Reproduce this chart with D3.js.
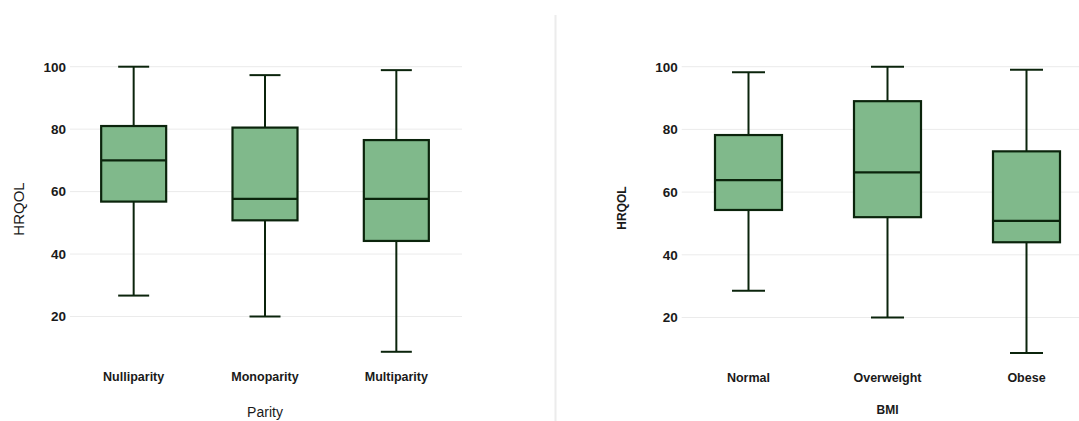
<!DOCTYPE html>
<html>
<head>
<meta charset="utf-8">
<script src="https://cdn.jsdelivr.net/npm/d3@7"></script>
<style>
  body { margin: 0; background: #fff; }
  svg { display: block; font-family: "Liberation Sans", Arial, sans-serif; }
</style>
</head>
<body>
<div class="chart"></div>
<script>
var w = 1079, h = 421;

// parity panel
var parityCats = ['Nulliparity', 'Monoparity', 'Multiparity'];
var parityMin = [26.7, 20, 8.7];
var parityQ1 = [56.8, 50.8, 44.2];
var parityMed = [70, 57.7, 57.7];
var parityQ3 = [81, 80.5, 76.5];
var parityMax = [100, 97.3, 98.9];

// BMI panel
var bmiCats = ['Normal', 'Overweight', 'Obese'];
var bmiMin = [28.5, 20, 8.7];
var bmiQ1 = [54.3, 52, 44];
var bmiMed = [63.8, 66.3, 50.8];
var bmiQ3 = [78.2, 89, 73];
var bmiMax = [98.2, 100, 99];

var yTicks = [20, 40, 60, 80, 100];

var fill = '#80b98b', stroke = '#0b240c';

var svg = d3.select('.chart').append('svg')
  .attr('width', w)
  .attr('height', h);

// thin divider between the two plots
svg.append('line')
  .attr('x1', 555.5).attr('x2', 555.5)
  .attr('y1', 15).attr('y2', h)
  .attr('stroke', '#ececec')
  .attr('stroke-width', 2);

function panel(opt) {
  var x = d3.scaleBand().domain(opt.cats).range(opt.xr).padding(0);
  var y = d3.scaleLinear().domain([20, 100]).range(opt.yr);

  var g = svg.append('g');

  // gridlines
  g.selectAll('.grid')
    .data(yTicks)
    .enter().append('line')
      .attr('x1', opt.gridX[0]).attr('x2', opt.gridX[1])
      .attr('y1', function(d) { return y(d); })
      .attr('y2', function(d) { return y(d); })
      .attr('stroke', '#ebebeb')
      .attr('stroke-width', 1);

  // y axis, labels only
  var yAxis = g.append('g')
    .attr('transform', 'translate(' + opt.gridX[0] + ',0)')
    .call(d3.axisLeft(y).tickValues(yTicks).tickSize(0).tickPadding(4));
  yAxis.select('.domain').remove();
  yAxis.selectAll('text')
    .attr('font-family', '"Liberation Sans", Arial, sans-serif')
    .attr('font-size', 13.5)
    .attr('font-weight', 'bold')
    .attr('fill', '#1a1a1a');

  var rows = opt.cats.map(function(c, i) {
    return { cat: c, min: opt.min[i], q1: opt.q1[i], med: opt.med[i], q3: opt.q3[i], max: opt.max[i] };
  });

  var box = g.selectAll('.box')
    .data(rows)
    .enter().append('g')
      .attr('transform', function(d) { return 'translate(' + (x(d.cat) + x.bandwidth() / 2) + ',0)'; });

  // whiskers
  box.append('line')
    .attr('x1', 0).attr('x2', 0)
    .attr('y1', function(d) { return y(d.max); })
    .attr('y2', function(d) { return y(d.min); })
    .attr('stroke', stroke).attr('stroke-width', 2);

  ['max', 'min'].forEach(function(k) {
    box.append('line')
      .attr('x1', -opt.cap / 2).attr('x2', opt.cap / 2)
      .attr('y1', function(d) { return y(d[k]); })
      .attr('y2', function(d) { return y(d[k]); })
      .attr('stroke', stroke).attr('stroke-width', 2);
  });

  box.append('rect')
    .attr('x', -opt.boxW / 2)
    .attr('width', opt.boxW)
    .attr('y', function(d) { return y(d.q3); })
    .attr('height', function(d) { return y(d.q1) - y(d.q3); })
    .attr('fill', fill)
    .attr('stroke', stroke)
    .attr('stroke-width', 2.2);

  box.append('line')
    .attr('x1', -opt.boxW / 2).attr('x2', opt.boxW / 2)
    .attr('y1', function(d) { return y(d.med); })
    .attr('y2', function(d) { return y(d.med); })
    .attr('stroke', stroke).attr('stroke-width', 2.2);

  // category labels
  g.selectAll('.xlab')
    .data(opt.cats)
    .enter().append('text')
      .attr('x', function(d) { return x(d) + x.bandwidth() / 2; })
      .attr('y', opt.labY)
      .attr('text-anchor', 'middle')
      .attr('font-size', 12.5)
      .attr('font-weight', 'bold')
      .attr('fill', '#1a1a1a')
      .text(function(d) { return d; });

  // axis titles
  g.append('text')
    .attr('x', d3.mean(opt.xr))
    .attr('y', opt.titleY)
    .attr('text-anchor', 'middle')
    .attr('font-size', opt.titleSize)
    .attr('font-weight', opt.titleWeight)
    .attr('fill', '#1a1a1a')
    .text(opt.xTitle);

  g.append('text')
    .attr('transform', 'translate(' + opt.yTitleX + ',' + opt.yTitleY + ') rotate(-90)')
    .attr('text-anchor', 'middle')
    .attr('dy', '0.35em')
    .attr('font-size', opt.yTitleSize)
    .attr('font-weight', opt.titleWeight)
    .attr('fill', '#1a1a1a')
    .text('HRQOL');
}

panel({
  cats: parityCats, min: parityMin, q1: parityQ1, med: parityMed, q3: parityQ3, max: parityMax,
  xr: [68, 462], yr: [316.5, 66.7], gridX: [70, 462],
  boxW: 65, cap: 31, labY: 381,
  xTitle: 'Parity', titleY: 417, titleSize: 14, titleWeight: 'normal',
  yTitleX: 19, yTitleY: 209, yTitleSize: 15
});

panel({
  cats: bmiCats, min: bmiMin, q1: bmiQ1, med: bmiMed, q3: bmiQ3, max: bmiMax,
  xr: [679, 1096], yr: [317.5, 66.7], gridX: [681.7, 1079],
  boxW: 67, cap: 33, labY: 382,
  xTitle: 'BMI', titleY: 414, titleSize: 12, titleWeight: 'bold',
  yTitleX: 622, yTitleY: 208, yTitleSize: 12
});
</script>
</body>
</html>
